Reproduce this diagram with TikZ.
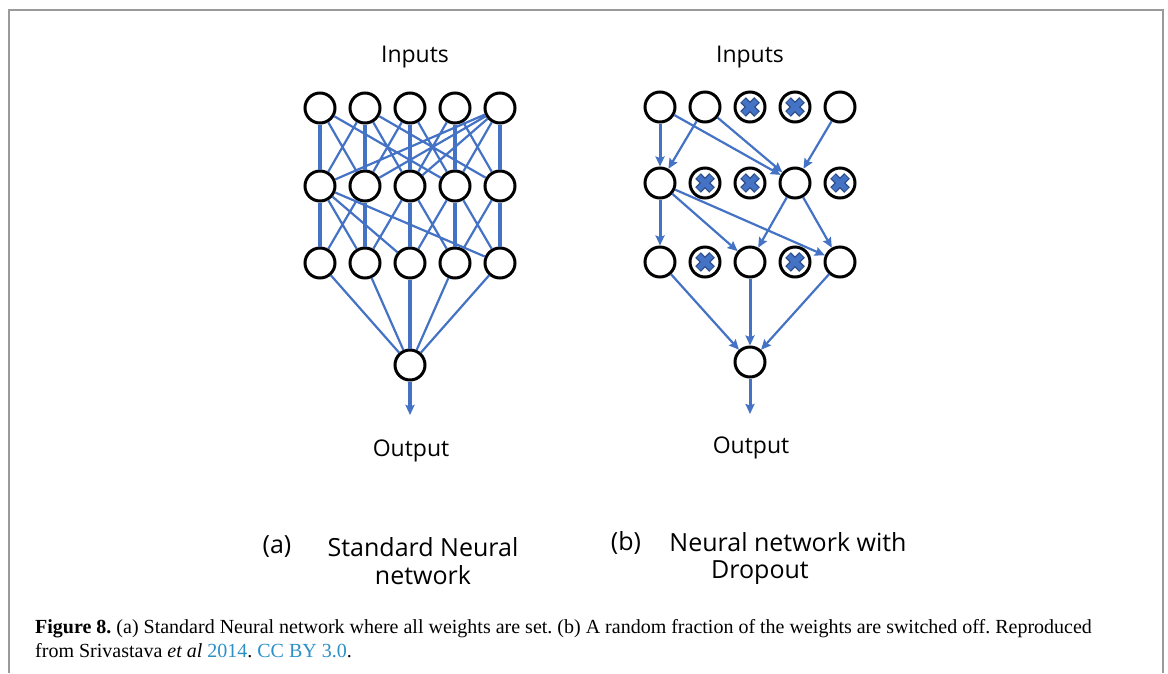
\documentclass[tikz,border=0pt]{standalone}
\usepackage{fontspec}
\setmainfont{Liberation Serif}
\newfontfamily\labelfont{Open Sans}
\usetikzlibrary{arrows.meta}
\frenchspacing

\definecolor{netblue}{HTML}{4472C4}
\definecolor{xedge}{HTML}{2F528F}
\definecolor{linkblue}{HTML}{2B8FC8}
\definecolor{framegray}{HTML}{9A9A9A}

\begin{document}
\begin{tikzpicture}[x=1pt,y=-1pt,
  unit/.style={draw,circle,line width=3pt,minimum size=30pt,inner sep=0pt,fill=white},
  dropped/.style={unit,path picture={
      \draw[xedge,line width=8pt,shift={(path picture bounding box.center)}] (-7,-7) -- (7,7) (-7,7) -- (7,-7);
      \draw[netblue,line width=5.2pt,shift={(path picture bounding box.center)}] (-6.3,-6.3) -- (6.3,6.3) (-6.3,6.3) -- (6.3,-6.3);}},
  link/.style={netblue,line width=2.2pt},
  bar/.style={netblue,line width=3.4pt},
  flow/.style={netblue,line width=2.2pt,-{Stealth[length=10pt,width=9pt,inset=1.5pt]}},
  lbl/.style={font=\labelfont\fontsize{23}{28}\selectfont},
  sub/.style={font=\labelfont\fontsize{25}{28}\selectfont}]

\useasboundingbox (0,0) rectangle (1168,673);
\draw[framegray,line width=2pt] (9,673) -- (9,10) -- (1163,10) -- (1163,673);

%Standard network
\node[unit] (s1) at (320,108) {};
\node[unit] (s2) at (365,108) {};
\node[unit] (s3) at (410,108) {};
\node[unit] (s4) at (455,108) {};
\node[unit] (s5) at (500,108) {};

\node[unit] (sh1) at (320,186) {};
\node[unit] (sh2) at (365,186) {};
\node[unit] (sh3) at (410,186) {};
\node[unit] (sh4) at (455,186) {};
\node[unit] (sh5) at (500,186) {};

\node[unit] (sg1) at (320,263) {};
\node[unit] (sg2) at (365,263) {};
\node[unit] (sg3) at (410,263) {};
\node[unit] (sg4) at (455,263) {};
\node[unit] (sg5) at (500,263) {};

\node[unit] (sout) at (410,365) {};
\coordinate (send) at (410,415);

\draw[bar] (s1) -- (sh1) (s2) -- (sh2) (s3) -- (sh3) (s4) -- (sh4) (s5) -- (sh5);
\draw[link] (s1) -- (sh2)
      (s1) -- (sh4)
      (s2) -- (sh1)
      (s2) -- (sh3)
      (s2) -- (sh5)
      (s3) -- (sh2)
      (s3) -- (sh4)
      (s4) -- (sh3)
      (s4) -- (sh5)
      (s5) -- (sh1)
      (s5) -- (sh2)
      (s5) -- (sh3)
      (s5) -- (sh4);

\draw[bar] (sh1) -- (sg1) (sh2) -- (sg2) (sh3) -- (sg3) (sh4) -- (sg4) (sh5) -- (sg5);
\draw[link] (sh1) -- (sg2)
      (sh1) -- (sg3)
      (sh1) -- (sg5)
      (sh2) -- (sg1)
      (sh3) -- (sg2)
      (sh3) -- (sg4)
      (sh4) -- (sg3)
      (sh4) -- (sg5)
      (sh5) -- (sg4);

\draw[link] (sg1) -- (sout) (sg2) -- (sout) (sg4) -- (sout) (sg5) -- (sout);
\draw[bar] (sg3) -- (sout);
\draw[flow,line width=3.4pt] (sout) -- (send);

\node[lbl] (sin) at (415,57) {Inputs};
\node[lbl] (sot) at (411,451) {Output};

%Dropout network
\node[unit] (d1) at (660,107) {};
\node[unit] (d2) at (705,107) {};
\node[dropped] (d3) at (750,107) {};
\node[dropped] (d4) at (795,107) {};
\node[unit] (d5) at (840,107) {};

\node[unit] (dh1) at (660,183) {};
\node[dropped] (dh2) at (705,183) {};
\node[dropped] (dh3) at (750,183) {};
\node[unit] (dh4) at (795,183) {};
\node[dropped] (dh5) at (840,183) {};

\node[unit] (dg1) at (660,262) {};
\node[dropped] (dg2) at (705,262) {};
\node[unit] (dg3) at (750,262) {};
\node[dropped] (dg4) at (795,262) {};
\node[unit] (dg5) at (840,262) {};

\node[unit] (dout) at (750,362) {};
\coordinate (dend) at (750,414);

\draw[flow,line width=3pt] (d1) -- (dh1);
\draw[flow] (d1) -- (dh4);
\draw[flow] (d2) -- (dh1);
\draw[flow] (d2) -- (dh4);
\draw[flow] (d5) -- (dh4);

\draw[flow,line width=3pt] (dh1) -- (dg1);
\draw[flow] (dh1) -- (dg3);
\draw[flow] (dh1) -- (dg5);
\draw[flow] (dh4) -- (dg3);
\draw[flow] (dh4) -- (dg5);

\draw[flow] (dg1) -- (dout);
\draw[flow,line width=3pt] (dg3) -- (dout);
\draw[flow] (dg5) -- (dout);
\draw[flow,line width=3pt] (dout) -- (dend);

\node[lbl] (din) at (750,57) {Inputs};
\node[lbl] (dot) at (751,448) {Output};

%Sub captions
\node[sub] (la) at (277,547) {(a)};
\node[sub,align=center] (ta) at (423,561) {Standard Neural\\network};
\node[sub] (lb) at (626,543) {(b)};
\node[sub] (tb) at (788,542) {Neural network with};
\node[sub] (tb2) at (760,573) {Dropout};

%Figure caption
\node[anchor=north west,align=left,inner sep=0pt,font=\fontsize{20}{24}\selectfont] (cap) at (35,619)
  {\textbf{Figure 8.} (a) Standard Neural network where all weights are set. (b) A random fraction of the weights are switched off. Reproduced\\
   from Srivastava \textit{et al} \textcolor{linkblue}{2014}. \textcolor{linkblue}{CC BY 3.0}.};

\end{tikzpicture}
\end{document}
